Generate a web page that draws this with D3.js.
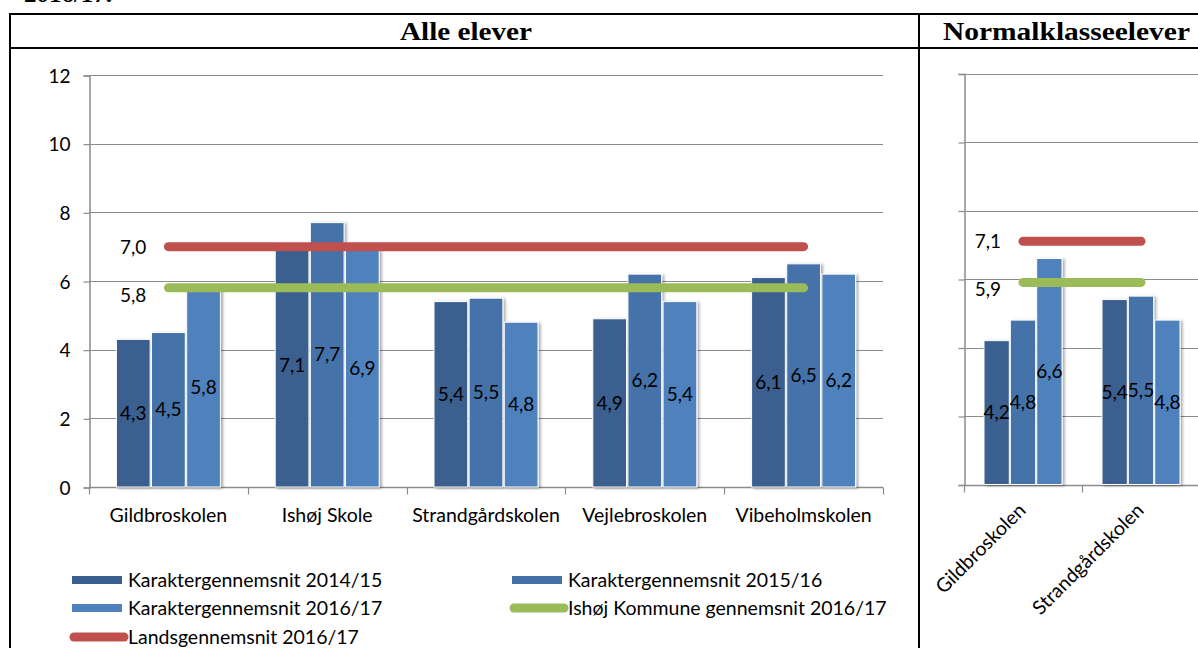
<!DOCTYPE html>
<html>
<head>
<meta charset="utf-8">
<script src="https://cdn.jsdelivr.net/npm/d3@7"></script>
<style>
  html, body { margin: 0; padding: 0; background: #fff; }
  svg { display: block; }
</style>
</head>
<body>
<svg id="chart" width="1198" height="648"></svg>
<script>
// ---------- DATA ----------
const seriesNames = ["Karaktergennemsnit 2014/15", "Karaktergennemsnit 2015/16", "Karaktergennemsnit 2016/17"];
const kommuneName = "Ishøj Kommune gennemsnit 2016/17";
const landsName = "Landsgennemsnit 2016/17";

const allCategories = ["Gildbroskolen", "Ishøj Skole", "Strandgårdskolen", "Vejlebroskolen", "Vibeholmskolen"];
const all1415 = [4.3, 7.1, 5.4, 4.9, 6.1];
const all1516 = [4.5, 7.7, 5.5, 6.2, 6.5];
const all1617 = [5.8, 6.9, 4.8, 5.4, 6.2];
const allKommune = 5.8;
const allLands = 7.0;

const normalCategories = ["Gildbroskolen", "Strandgårdskolen"];
const normal1415 = [4.2, 5.4];
const normal1516 = [4.8, 5.5];
const normal1617 = [6.6, 4.8];
const normalKommune = 5.9;
const normalLands = 7.1;

const yTicks = [0, 2, 4, 6, 8, 10, 12];
const titles = ["Alle elever", "Normalklasseelever"];

// ---------- STYLE ----------
const barColors = ["#3A5F8E", "#4472A8", "#4F81BD"];
const kommuneColor = "#9BBB59";
const landsColor = "#C0504D";
const gridColor = "#8C8C8C";
const font = "Lato, 'Open Sans', sans-serif";
const fmt = v => d3.format(".1f")(v).replace(".", ",");

const svg = d3.select("#chart");

// shadow filter
const defs = svg.append("defs");
const f = defs.append("filter").attr("id", "shadow").attr("x", "-20%").attr("y", "-10%").attr("width", "150%").attr("height", "130%");
f.append("feGaussianBlur").attr("in", "SourceAlpha").attr("stdDeviation", 1.5).attr("result", "b");
f.append("feOffset").attr("in", "b").attr("dx", 2).attr("dy", 1).attr("result", "o");
f.append("feComponentTransfer").attr("in", "o").attr("result", "o2")
  .append("feFuncA").attr("type", "linear").attr("slope", 0.35);
const fm = f.append("feMerge");
fm.append("feMergeNode").attr("in", "o2");
fm.append("feMergeNode").attr("in", "SourceGraphic");

// ---------- TABLE FRAME ----------
svg.append("text").attr("x", 24).attr("y", 2).attr("textLength", 88).attr("lengthAdjust", "spacingAndGlyphs")
  .style("font-family", "'Liberation Serif', serif").style("font-size", "22px").style("font-weight", "bold")
  .text("2016/17.");

const frame = svg.append("g").attr("stroke", "#000").attr("stroke-width", 2);
frame.append("line").attr("x1", 9).attr("x2", 1198).attr("y1", 14).attr("y2", 14);
frame.append("line").attr("x1", 9).attr("x2", 1198).attr("y1", 48).attr("y2", 48);
frame.append("line").attr("x1", 10).attr("x2", 10).attr("y1", 13).attr("y2", 648);
frame.append("line").attr("x1", 919).attr("x2", 919).attr("y1", 13).attr("y2", 648);

svg.append("text").attr("x", 400).attr("y", 40).attr("textLength", 132).attr("lengthAdjust", "spacingAndGlyphs")
  .style("font-family", "'Liberation Serif', 'Times New Roman', serif").style("font-size", "26px").style("font-weight", "bold")
  .text(titles[0]);
svg.append("text").attr("x", 943).attr("y", 40).attr("textLength", 247).attr("lengthAdjust", "spacingAndGlyphs")
  .style("font-family", "'Liberation Serif', 'Times New Roman', serif").style("font-size", "26px").style("font-weight", "bold")
  .text(titles[1]);

// ---------- CHART FUNCTION ----------
function drawChart(opts) {
  const { categories, values, kommune, lands, x0, x1, yTop, yBottom, gridRight, groupWidth, showYLabels, rotateLabels } = opts;
  const g = svg.append("g");
  const y = d3.scaleLinear().domain([0, 12]).range([yBottom, yTop]);
  const xBand = d3.scaleBand().domain(categories).range([x0, x1]).paddingInner(0).paddingOuter(0);
  const step = xBand.bandwidth();
  const xSub = d3.scaleBand().domain(d3.range(seriesNames.length))
    .range([(step - groupWidth) / 2, (step + groupWidth) / 2]).paddingInner(0.04);

  // gridlines
  g.append("g").selectAll("line").data(yTicks).join("line")
    .attr("x1", x0).attr("x2", gridRight)
    .attr("y1", d => Math.round(y(d)) + 0.5).attr("y2", d => Math.round(y(d)) + 0.5)
    .attr("stroke", gridColor).attr("stroke-width", 1.2);

  // y axis
  const yAxis = d3.axisLeft(y).tickValues(yTicks).tickSize(6).tickFormat(showYLabels ? d3.format("d") : "");
  const ya = g.append("g").attr("transform", `translate(${x0 + 0.5},0.5)`).call(yAxis);
  ya.select(".domain").attr("stroke", gridColor).attr("stroke-width", 1.5);
  ya.selectAll(".tick line").attr("stroke", gridColor).attr("stroke-width", 1.2);
  ya.selectAll(".tick text").attr("x", -19).attr("dy", "0.35em").attr("fill", "#000")
    .style("font-family", font).style("font-size", "19px");

  // x axis (category boundaries ticks)
  const xAxisG = g.append("g").attr("transform", `translate(0,${Math.round(yBottom) + 0.5})`);
  xAxisG.append("line").attr("x1", x0).attr("x2", gridRight).attr("stroke", gridColor).attr("stroke-width", 1.5);
  const bounds = categories.map(c => xBand(c)).concat([x1]);
  xAxisG.selectAll("line.tk").data(bounds.filter(b => b <= gridRight)).join("line").attr("class", "tk")
    .attr("x1", d => Math.round(d) + 0.5).attr("x2", d => Math.round(d) + 0.5).attr("y1", 0).attr("y2", 7)
    .attr("stroke", gridColor).attr("stroke-width", 1.2);

  // bars
  const groups = g.append("g").selectAll("g").data(categories).join("g")
    .attr("transform", c => `translate(${xBand(c)},0)`);
  groups.each(function (c, ci) {
    const gg = d3.select(this);
    const data = values.map((arr, si) => ({ si, v: arr[ci] }));
    gg.selectAll("rect").data(data).join("rect")
      .attr("x", d => xSub(d.si)).attr("width", xSub.bandwidth())
      .attr("y", d => y(d.v)).attr("height", d => y(0) - y(d.v))
      .attr("fill", d => barColors[d.si]).attr("stroke", "#fff").attr("stroke-width", 1)
      .attr("filter", "url(#shadow)");
  });

  // lines (kommune, lands)
  const first = xBand(categories[0]) + step / 2;
  const last = xBand(categories[categories.length - 1]) + step / 2;
  [[kommune, kommuneColor, 14], [lands, landsColor, 7]].forEach(([v, col, dy]) => {
    g.append("line").attr("x1", first).attr("x2", last).attr("y1", y(v)).attr("y2", y(v))
      .attr("stroke", col).attr("stroke-width", 9).attr("stroke-linecap", "round");
    g.append("text").attr("x", first - 22).attr("y", y(v) + dy).attr("text-anchor", "end")
      .style("font-family", font).style("font-size", "19px").attr("fill", "#000").text(fmt(v));
  });

  // bar labels (centered in bars)
  groups.each(function (c, ci) {
    const gg = d3.select(this);
    const data = values.map((arr, si) => ({ si, v: arr[ci] }));
    gg.selectAll("text.val").data(data).join("text").attr("class", "val")
      .attr("x", d => xSub(d.si) + xSub.bandwidth() / 2)
      .attr("y", d => y(d.v / 2)).attr("dy", "0.35em").attr("text-anchor", "middle")
      .style("font-family", font).style("font-size", "19px").attr("fill", "#000").text(d => fmt(d.v));
  });

  // category labels
  if (!rotateLabels) {
    g.append("g").selectAll("text").data(categories).join("text")
      .attr("x", c => xBand(c) + step / 2).attr("y", yBottom + 35).attr("text-anchor", "middle")
      .style("font-family", font).style("font-size", "19.5px").attr("fill", "#000").text(c => c);
  } else {
    g.append("g").selectAll("text").data(categories).join("text")
      .attr("transform", c => `translate(${xBand(c) + step / 2 + 4},${yBottom + 27}) rotate(-45)`)
      .attr("text-anchor", "end")
      .style("font-family", font).style("font-size", "19.5px").attr("fill", "#000").text(c => c);
  }
}

drawChart({
  categories: allCategories,
  values: [all1415, all1516, all1617],
  kommune: allKommune, lands: allLands,
  x0: 89, x1: 883, yTop: 75, yBottom: 487, gridRight: 883, groupWidth: 104,
  showYLabels: true, rotateLabels: false
});
drawChart({
  categories: normalCategories,
  values: [normal1415, normal1516, normal1617],
  kommune: normalKommune, lands: normalLands,
  x0: 964, x1: 1200, yTop: 73.5, yBottom: 484.5, gridRight: 1198, groupWidth: 78,
  showYLabels: false, rotateLabels: true
});

// ---------- LEGEND ----------
const legendItems = [
  { name: seriesNames[0], type: "rect", color: barColors[0], x: 72, y: 580 },
  { name: seriesNames[1], type: "rect", color: barColors[1], x: 512, y: 580 },
  { name: seriesNames[2], type: "rect", color: barColors[2], x: 72, y: 608 },
  { name: kommuneName, type: "line", color: kommuneColor, x: 512, y: 608 },
  { name: landsName, type: "line", color: landsColor, x: 72, y: 637 }
];
const lg = svg.append("g").selectAll("g").data(legendItems).join("g")
  .attr("transform", d => `translate(${d.x},${d.y})`);
lg.each(function (d) {
  const s = d3.select(this);
  if (d.type === "rect") {
    s.append("rect").attr("x", 0).attr("y", -4).attr("width", 50).attr("height", 8).attr("fill", d.color);
  } else {
    s.append("line").attr("x1", 2).attr("x2", 52).attr("y1", 0).attr("y2", 0)
      .attr("stroke", d.color).attr("stroke-width", 9).attr("stroke-linecap", "round");
  }
  s.append("text").attr("x", 56).attr("y", 0).attr("dy", "0.35em")
    .style("font-family", font).style("font-size", "19.5px").attr("fill", "#000").text(d.name);
});
</script>
</body>
</html>
